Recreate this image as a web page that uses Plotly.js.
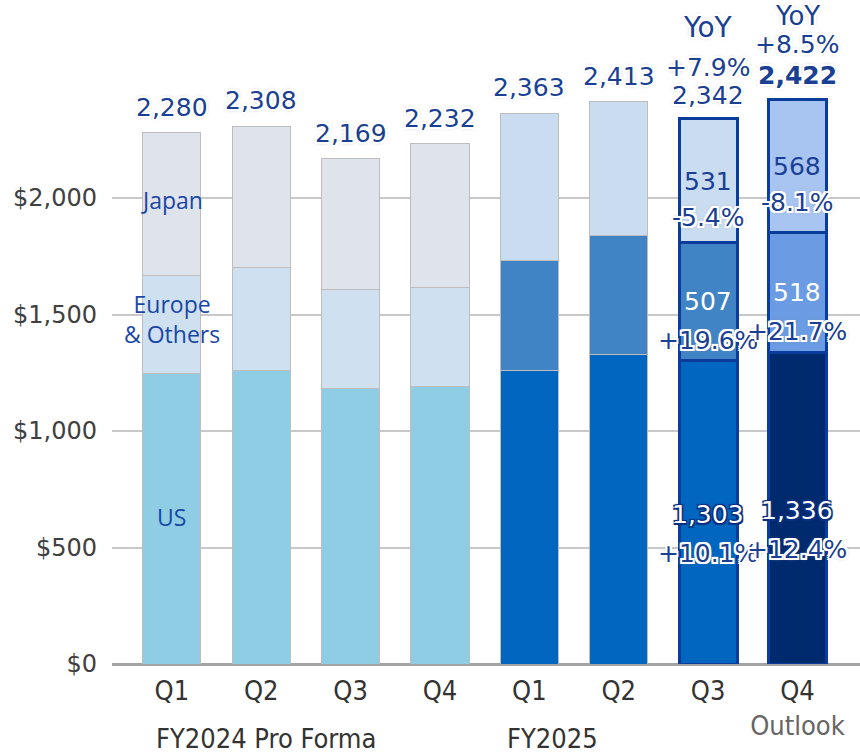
<!DOCTYPE html>
<html>
<head>
<meta charset="utf-8">
<script src="https://cdn.plot.ly/plotly-3.0.1.min.js"></script>
<style>
  body { margin: 0; background: #fff; }
  #plot { width: 860px; height: 756px; }
</style>
</head>
<body>
<div id="plot"></div>
<script>
// quarters: FY2024 Pro Forma Q1-Q4, FY2025 Q1-Q3, Q4 outlook
let quarters = [0, 1, 2, 3, 4, 5, 6, 7];
let quarterLabels = ["Q1", "Q2", "Q3", "Q4", "Q1", "Q2", "Q3",
  "Q4<br><span style='color:#666'>Outlook</span>"];
let yTicks = [0, 500, 1000, 1500, 2000];
let yTickLabels = ["$0", "$500", "$1,000", "$1,500", "$2,000"];

// revenue by region ($M)
let us     = [1249, 1258, 1183, 1189, 1258, 1330, 1303, 1336];
let europe = [420, 442, 424, 425, 476, 511, 507, 518];
let japan  = [611, 608, 562, 618, 629, 572, 531, 568];
let totals = [2280, 2308, 2169, 2232, 2363, 2413, 2342, 2422];

// yoy growth shown on Q3 and Q4 of FY2025
let yoyTotal  = {6: "+7.9%", 7: "+8.5%"};
let yoyUS     = {6: "+10.1%", 7: "+12.4%"};
let yoyEurope = {6: "+19.6%", 7: "+21.7%"};
let yoyJapan  = {6: "-5.4%", 7: "-8.1%"};

// colours per bar
let usColors     = ["#8ecde3", "#8ecde3", "#8ecde3", "#8ecde3", "#0066bf", "#0066bf", "#0066bf", "#002a6e"];
let europeColors = ["#cfe0f0", "#cfe0f0", "#cfe0f0", "#cfe0f0", "#4184c6", "#4184c6", "#4184c6", "#6a9be3"];
let japanColors  = ["#dfe4ec", "#dfe4ec", "#dfe4ec", "#dfe4ec", "#cadcef", "#cadcef", "#cadcef", "#a8c4f0"];
let lineColors = quarters.map(i => i >= 6 ? "#0a3c9c" : "#bdbdbd");
let lineWidths = quarters.map(i => i >= 6 ? 3 : 1);

let navy = "#1a3f93";
let halo = "-2px -2px 0 #fff, 2px -2px 0 #fff, -2px 2px 0 #fff, 2px 2px 0 #fff, 0 -2px 0 #fff, 0 2px 0 #fff, -2px 0 0 #fff, 2px 0 0 #fff, 0 0 4px #888";
let darkHalo = "-1.5px -1.5px 0 #0a2f80, 1.5px -1.5px 0 #0a2f80, -1.5px 1.5px 0 #0a2f80, 1.5px 1.5px 0 #0a2f80, 0 0 3px #0a2f80";
let valFont = "DejaVu Sans, Verdana, sans-serif";
let narrowFont = "DejaVu Sans Condensed, Liberation Sans Narrow, sans-serif";

function barTrace(name, values, colors) {
  return {
    x: quarters,
    y: values,
    name: name,
    type: "bar",
    width: 0.65,
    marker: { color: colors, line: { color: lineColors, width: lineWidths } },
    hoverinfo: "skip"
  };
}

let data = [
  barTrace("US", us, usColors),
  barTrace("Europe & Others", europe, europeColors),
  barTrace("Japan", japan, japanColors)
];

let annotations = [];
let shadows = [];
function addNote(note, shadow) {
  annotations.push(note);
  shadows.push(shadow || "");
}

// totals on top of bars
quarters.forEach(i => {
  if (i < 6) {
    addNote({
      x: i, y: totals[i], yanchor: "bottom", yshift: 9, showarrow: false,
      text: totals[i].toLocaleString("en-US"),
      font: { family: valFont, size: 25, color: navy }
    }, halo);
  }
});

// Q3 top labels
addNote({ x: 6, y: totals[6], yanchor: "middle", yshift: 23, showarrow: false,
  text: totals[6].toLocaleString("en-US"),
  font: { family: valFont, size: 25, color: navy } }, halo);
addNote({ x: 6, y: totals[6], yanchor: "middle", yshift: 51, showarrow: false,
  text: yoyTotal[6], font: { family: valFont, size: 25, color: navy } }, halo);
addNote({ x: 6, y: totals[6], yanchor: "middle", yshift: 91, showarrow: false,
  text: "YoY", font: { family: valFont, size: 28, color: navy } }, halo);
// Q4 top labels
addNote({ x: 7, y: totals[7], yanchor: "middle", yshift: 24, borderpad: 0, showarrow: false,
  text: "<b>" + totals[7].toLocaleString("en-US") + "</b>",
  font: { family: valFont, size: 25, color: navy } }, halo);
addNote({ x: 7, y: totals[7], yanchor: "middle", yshift: 55, borderpad: 0, showarrow: false,
  text: yoyTotal[7], font: { family: valFont, size: 25, color: navy } }, halo);
addNote({ x: 7, y: totals[7], yanchor: "middle", yshift: 84, borderpad: 0, showarrow: false,
  text: "YoY", font: { family: valFont, size: 26, color: navy } }, halo);

// segment values + yoy inside Q3 / Q4
[6, 7].forEach(i => {
  let usMid = us[i] / 2;
  let euMid = us[i] + europe[i] / 2;
  let jpMid = us[i] + europe[i] + japan[i] / 2;
  addNote({ x: i, y: jpMid, yshift: -1, showarrow: false, text: String(japan[i]),
    font: { family: valFont, size: 25, color: navy } });
  addNote({ x: i, y: jpMid, yshift: -37, showarrow: false, text: yoyJapan[i],
    font: { family: valFont, size: 25, color: navy } }, halo);
  addNote({ x: i, y: euMid, yshift: 0, showarrow: false, text: String(europe[i]),
    font: { family: valFont, size: 25, color: "#ffffff" } });
  addNote({ x: i, y: euMid, yshift: -39, showarrow: false, text: yoyEurope[i],
    font: { family: valFont, size: 25, color: navy } }, halo);
  addNote({ x: i, y: usMid, yshift: -2, showarrow: false, text: us[i].toLocaleString("en-US"),
    font: { family: valFont, size: 25, color: "#ffffff" } }, darkHalo);
  addNote({ x: i, y: usMid, yshift: -41, showarrow: false, text: yoyUS[i],
    font: { family: valFont, size: 25, color: navy } }, halo);
});

// region labels on first bar
let regionFont = { family: "Open Sans, Lato, sans-serif", size: 23, color: "#1a47a5" };
addNote({ x: 0, y: 1991, showarrow: false, text: "Japan", font: regionFont });
addNote({ x: 0, y: 1481, showarrow: false, text: "Europe<br>& Others", font: regionFont });
addNote({ x: 0, y: 631, showarrow: false, text: "US", font: regionFont });

// fiscal year group labels
let fyFont = { family: narrowFont, size: 27, color: "#333333" };
addNote({ x: 0, xanchor: "left", xshift: -18, yref: "paper", y: -0.112, yanchor: "middle",
  showarrow: false, text: "FY2024 Pro Forma", font: fyFont });
addNote({ x: 4, xanchor: "left", xshift: -24, yref: "paper", y: -0.112, yanchor: "middle",
  showarrow: false, text: "FY2025", font: fyFont });

let layout = {
  width: 860,
  height: 756,
  barmode: "stack",
  showlegend: false,
  paper_bgcolor: "#ffffff",
  plot_bgcolor: "#ffffff",
  margin: { l: 112, r: 0, t: 0, b: 92 },
  xaxis: {
    range: [-0.67, 7.7],
    tickvals: quarters,
    ticktext: quarterLabels,
    tickfont: { family: narrowFont, size: 27, color: "#333333" },
    showgrid: false,
    zeroline: false,
    ticks: "",
    ticklabelstandoff: 8,
    fixedrange: true
  },
  yaxis: {
    range: [0, 2850],
    tickvals: yTicks,
    ticktext: yTickLabels,
    tickfont: { family: valFont, size: 24, color: "#404040" },
    gridcolor: "#c8c8c8",
    gridwidth: 2,
    zeroline: true,
    zerolinecolor: "#a3a3a3",
    zerolinewidth: 3,
    ticklabelstandoff: 14,
    fixedrange: true
  },
  annotations: annotations
};

Plotly.newPlot("plot", data, layout, { displayModeBar: false, staticPlot: true }).then(() => {
  // white / dark outlines round the labels
  shadows.forEach((s, i) => {
    if (!s) return;
    let t = document.querySelector('.annotation[data-index="' + i + '"] .annotation-text');
    if (t) t.style.textShadow = s;
  });
});
</script>
</body>
</html>
